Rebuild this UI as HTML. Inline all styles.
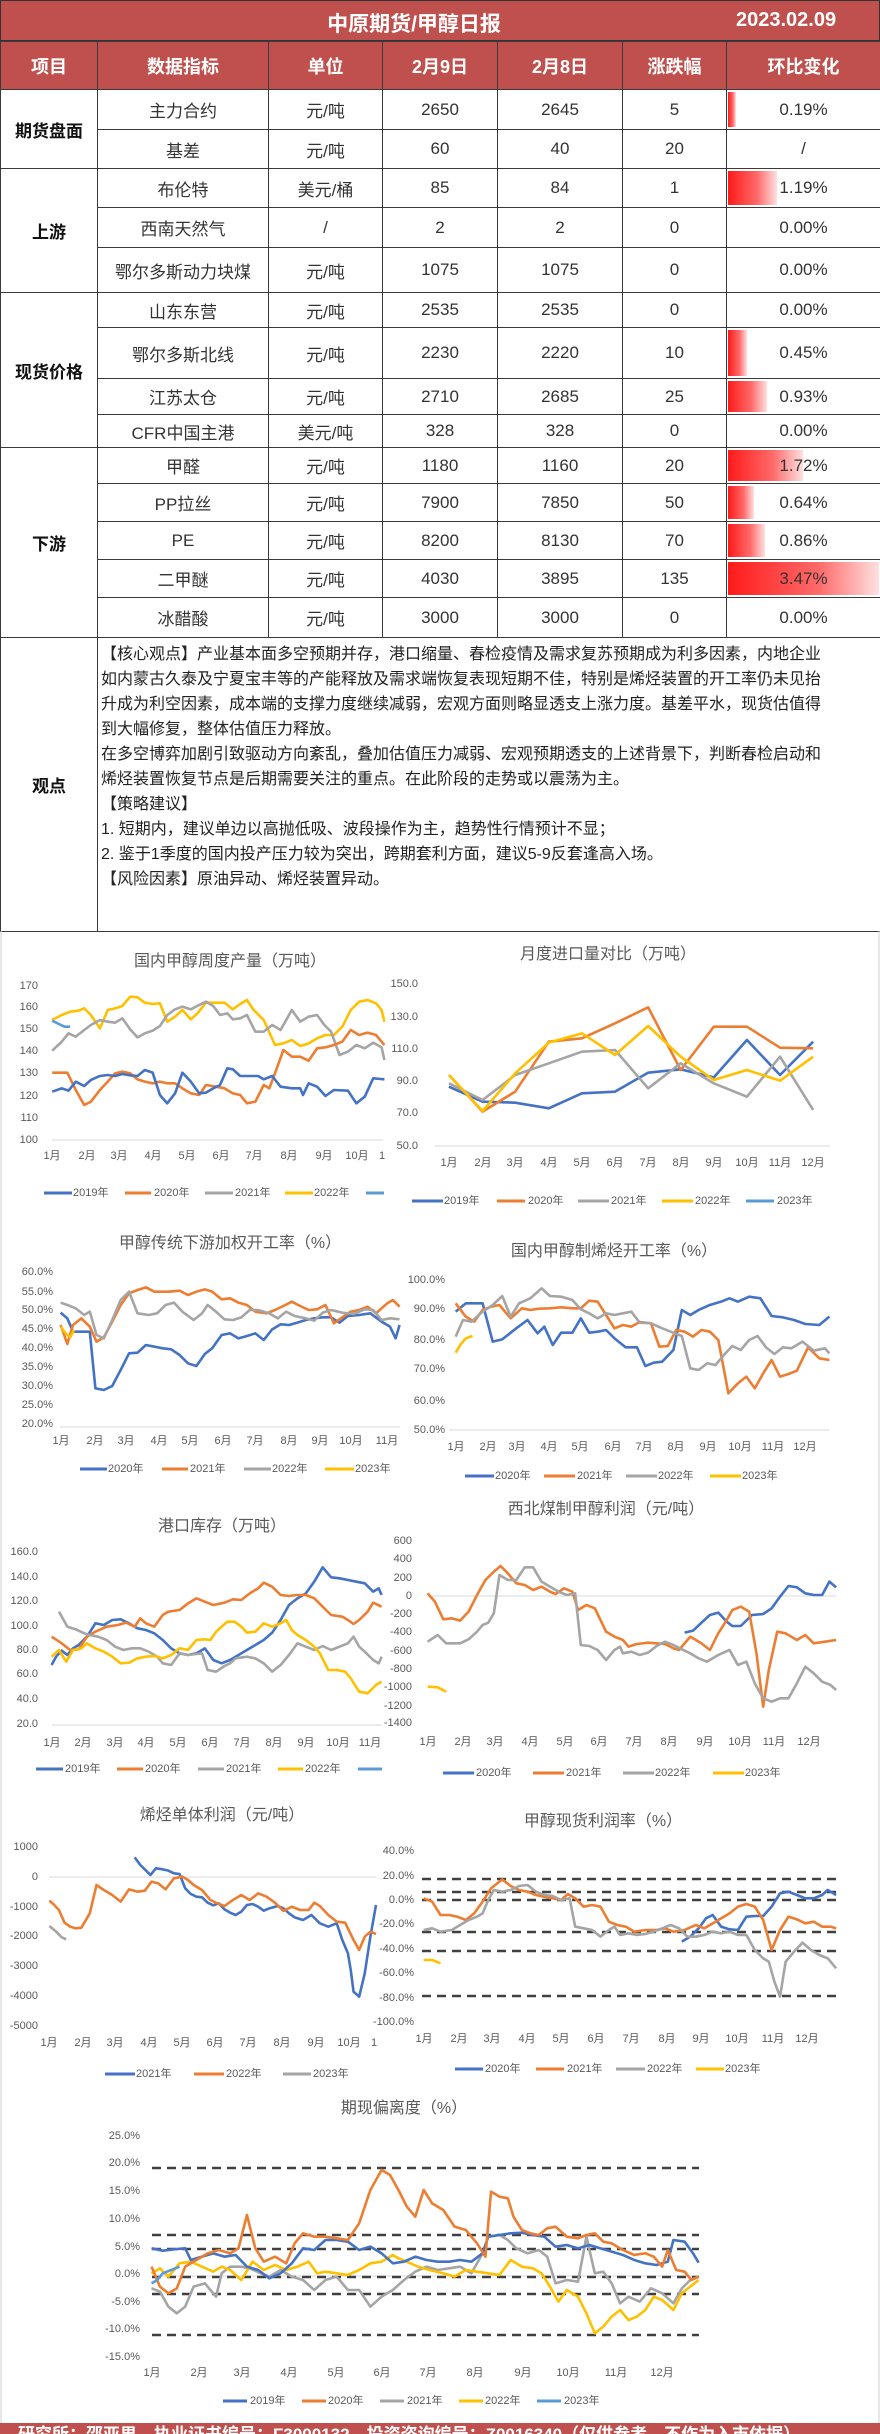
<!DOCTYPE html>
<html><head><meta charset="utf-8">
<style>
*{margin:0;padding:0;box-sizing:border-box}
body{width:880px;height:2434px;background:#fff;position:relative;overflow:hidden;font-family:"Liberation Sans","Noto Sans CJK SC",sans-serif;color:#333}
.title{position:absolute;left:0;top:0;width:880px;height:41px;background:#c0504d;color:#fff;font-weight:bold;border:1px solid #333}
.title .t{position:absolute;left:0;width:826px;text-align:center;top:7px;font-size:21px}
.title .d{position:absolute;left:735px;top:8px;font-size:20px}
table{position:absolute;left:0;top:41px;border-collapse:collapse;table-layout:fixed;width:880px}
td{border:1px solid #3a3a3a;text-align:center;vertical-align:middle;font-size:17px;color:#333;position:relative;padding:0}
tr.h td{background:#c0504d;color:#fff;font-weight:bold;font-size:18px}
td.cat{font-weight:bold;color:#111;font-size:17px}
.bar{position:absolute;left:1px;top:2px;bottom:2px;background:linear-gradient(to right,#ff1a1a,#ff6a6a 60%,#ffe0e0)}
.pc{position:relative}
.view{text-align:left;vertical-align:top;padding:4px 0 0 3px;font-size:16px;line-height:25px;white-space:nowrap;color:#222}
svg{position:absolute;left:0;top:0}
polyline{vector-effect:non-scaling-stroke;fill:none;stroke-width:2.6;stroke-linejoin:round}
.b{stroke:#4472c4}.o{stroke:#ed7d31}.g{stroke:#a5a5a5}.y{stroke:#ffc000}.l{stroke:#5b9bd5}
text{font-family:"Liberation Sans","Noto Sans CJK SC",sans-serif}
.tt{font-size:16px;fill:#595959;text-anchor:middle}
.yl{font-size:11px;fill:#595959;text-anchor:end;dominant-baseline:middle}
.xl{font-size:11px;fill:#595959;text-anchor:middle;dominant-baseline:middle}
.lg{font-size:11px;fill:#595959;dominant-baseline:middle}
.footer{position:absolute;left:0;top:2423px;width:880px;height:11px;background:#c0504d;overflow:hidden;color:#fff;font-weight:bold;font-size:17px;white-space:nowrap;padding-left:18px;line-height:24px}
</style></head><body>
<div class="title"><div class="t">中原期货/甲醇日报</div><div class="d">2023.02.09</div></div>
<table>
<colgroup><col style="width:97px"><col style="width:171px"><col style="width:114px"><col style="width:115px"><col style="width:125px"><col style="width:104px"><col style="width:154px"></colgroup>
<tr class="h" style="height:48px"><td>项目</td><td>数据指标</td><td>单位</td><td>2月9日</td><td>2月8日</td><td>涨跌幅</td><td>环比变化</td></tr>
<tr style="height:40px"><td class="cat" rowspan="2">期货盘面</td><td>主力合约</td><td>元/吨</td><td>2650</td><td>2645</td><td>5</td><td><div class="bar" style="width:8px"></div><span class="pc">0.19%</span></td></tr>
<tr style="height:39px"><td>基差</td><td>元/吨</td><td>60</td><td>40</td><td>20</td><td>/</td></tr>
<tr style="height:39px"><td class="cat" rowspan="3">上游</td><td>布伦特</td><td>美元/桶</td><td>85</td><td>84</td><td>1</td><td><div class="bar" style="width:49px"></div><span class="pc">1.19%</span></td></tr>
<tr style="height:40px"><td>西南天然气</td><td>/</td><td>2</td><td>2</td><td>0</td><td>0.00%</td></tr>
<tr style="height:45px"><td>鄂尔多斯动力块煤</td><td>元/吨</td><td>1075</td><td>1075</td><td>0</td><td>0.00%</td></tr>
<tr style="height:35px"><td class="cat" rowspan="4">现货价格</td><td>山东东营</td><td>元/吨</td><td>2535</td><td>2535</td><td>0</td><td>0.00%</td></tr>
<tr style="height:51px"><td>鄂尔多斯北线</td><td>元/吨</td><td>2230</td><td>2220</td><td>10</td><td><div class="bar" style="width:19px"></div><span class="pc">0.45%</span></td></tr>
<tr style="height:36px"><td>江苏太仓</td><td>元/吨</td><td>2710</td><td>2685</td><td>25</td><td><div class="bar" style="width:39px"></div><span class="pc">0.93%</span></td></tr>
<tr style="height:33px"><td>CFR中国主港</td><td>美元/吨</td><td>328</td><td>328</td><td>0</td><td>0.00%</td></tr>
<tr style="height:36px"><td class="cat" rowspan="5">下游</td><td>甲醛</td><td>元/吨</td><td>1180</td><td>1160</td><td>20</td><td><div class="bar" style="width:75px"></div><span class="pc">1.72%</span></td></tr>
<tr style="height:38px"><td>PP拉丝</td><td>元/吨</td><td>7900</td><td>7850</td><td>50</td><td><div class="bar" style="width:26px"></div><span class="pc">0.64%</span></td></tr>
<tr style="height:38px"><td>PE</td><td>元/吨</td><td>8200</td><td>8130</td><td>70</td><td><div class="bar" style="width:37px"></div><span class="pc">0.86%</span></td></tr>
<tr style="height:38px"><td>二甲醚</td><td>元/吨</td><td>4030</td><td>3895</td><td>135</td><td><div class="bar" style="width:151px"></div><span class="pc">3.47%</span></td></tr>
<tr style="height:40px"><td>冰醋酸</td><td>元/吨</td><td>3000</td><td>3000</td><td>0</td><td>0.00%</td></tr>
<tr style="height:294px"><td class="cat">观点</td><td colspan="6" class="view">【核心观点】产业基本面多空预期并存，港口缩量、春检疫情及需求复苏预期成为利多因素，内地企业<br>如内蒙古久泰及宁夏宝丰等的产能释放及需求端恢复表现短期不佳，特别是烯烃装置的开工率仍未见抬<br>升成为利空因素，成本端的支撑力度继续减弱，宏观方面则略显透支上涨力度。基差平水，现货估值得<br>到大幅修复，整体估值压力释放。<br>在多空博弈加剧引致驱动方向紊乱，叠加估值压力减弱、宏观预期透支的上述背景下，判断春检启动和<br>烯烃装置恢复节点是后期需要关注的重点。在此阶段的走势或以震荡为主。<br>【策略建议】<br>1. 短期内，建议单边以高抛低吸、波段操作为主，趋势性行情预计不显；<br>2. 鉴于1季度的国内投产压力较为突出，跨期套利方面，建议5-9反套逢高入场。<br>【风险因素】原油异动、烯烃装置异动。</td></tr>
</table>

<svg width="880" height="2434" viewBox="0 0 880 2434">
<line x1="1" y1="931" x2="1" y2="2423" stroke="#d0d0d0"/>
<line x1="879" y1="931" x2="879" y2="2423" stroke="#d0d0d0"/>

<!-- Chart 1 & 2 -->
<text class="tt" x="230" y="966">国内甲醇周度产量（万吨）</text>
<text class="tt" x="608" y="959">月度进口量对比（万吨）</text>
<g>
<text class="yl" x="38" y="986">170</text><text class="yl" x="38" y="1007">160</text><text class="yl" x="38" y="1029">150</text><text class="yl" x="38" y="1051">140</text><text class="yl" x="38" y="1073">130</text><text class="yl" x="38" y="1096">120</text><text class="yl" x="38" y="1118">110</text><text class="yl" x="38" y="1140">100</text>
<text class="yl" x="418" y="984">150.0</text><text class="yl" x="418" y="1017">130.0</text><text class="yl" x="418" y="1049">110.0</text><text class="yl" x="418" y="1081">90.0</text><text class="yl" x="418" y="1113">70.0</text><text class="yl" x="418" y="1146">50.0</text>
<line x1="52" y1="1140" x2="383" y2="1140" stroke="#d9d9d9"/>
<line x1="435" y1="1146" x2="830" y2="1146" stroke="#d9d9d9"/>
<text class="xl" x="52" y="1156">1月</text><text class="xl" x="87" y="1156">2月</text><text class="xl" x="119" y="1156">3月</text><text class="xl" x="153" y="1156">4月</text><text class="xl" x="187" y="1156">5月</text><text class="xl" x="221" y="1156">6月</text><text class="xl" x="254" y="1156">7月</text><text class="xl" x="289" y="1156">8月</text><text class="xl" x="324" y="1156">9月</text><text class="xl" x="357" y="1156">10月</text><text class="xl" x="382" y="1156">1</text>
<text class="xl" x="449" y="1163">1月</text><text class="xl" x="483" y="1163">2月</text><text class="xl" x="515" y="1163">3月</text><text class="xl" x="549" y="1163">4月</text><text class="xl" x="582" y="1163">5月</text><text class="xl" x="615" y="1163">6月</text><text class="xl" x="648" y="1163">7月</text><text class="xl" x="681" y="1163">8月</text><text class="xl" x="714" y="1163">9月</text><text class="xl" x="747" y="1163">10月</text><text class="xl" x="780" y="1163">11月</text><text class="xl" x="813" y="1163">12月</text>
<line x1="44" y1="1193" x2="72" y2="1193" stroke="#4472c4" stroke-width="3"/><text class="lg" x="73" y="1193">2019年</text>
<line x1="125" y1="1193" x2="151" y2="1193" stroke="#ed7d31" stroke-width="3"/><text class="lg" x="154" y="1193">2020年</text>
<line x1="205" y1="1193" x2="233" y2="1193" stroke="#a5a5a5" stroke-width="3"/><text class="lg" x="235" y="1193">2021年</text>
<line x1="285" y1="1193" x2="313" y2="1193" stroke="#ffc000" stroke-width="3"/><text class="lg" x="314" y="1193">2022年</text>
<line x1="366" y1="1193" x2="384" y2="1193" stroke="#5b9bd5" stroke-width="3"/>
<line x1="412" y1="1201" x2="443" y2="1201" stroke="#4472c4" stroke-width="3"/><text class="lg" x="444" y="1201">2019年</text>
<line x1="497" y1="1201" x2="525" y2="1201" stroke="#ed7d31" stroke-width="3"/><text class="lg" x="528" y="1201">2020年</text>
<line x1="578" y1="1201" x2="609" y2="1201" stroke="#a5a5a5" stroke-width="3"/><text class="lg" x="611" y="1201">2021年</text>
<line x1="662" y1="1201" x2="693" y2="1201" stroke="#ffc000" stroke-width="3"/><text class="lg" x="695" y="1201">2022年</text>
<line x1="746" y1="1201" x2="774" y2="1201" stroke="#5b9bd5" stroke-width="3"/><text class="lg" x="777" y="1201">2023年</text>
</g>
<g transform="translate(0,920) scale(0.56117,0.33333)">
<polyline class="y" points="93,300 110,285 125,275 140,272 150,265 162,285 178,325 192,270 205,265 218,258 232,230 245,232 258,248 272,252 285,250 298,305 312,290 325,270 340,298 352,280 367,248 385,248 400,248 415,268 428,252 440,240 452,270 470,300 490,375 505,370 520,360 535,378 550,370 565,355 580,345 595,345 610,320 625,270 640,245 655,240 670,250 680,270 685,305"/>
<polyline class="g" points="93,392 110,365 122,340 135,350 150,330 162,315 178,300 192,305 205,308 218,295 232,328 245,352 258,340 272,332 285,318 298,285 312,268 325,260 340,268 355,255 367,245 380,258 392,285 405,280 415,298 428,295 440,285 455,335 470,335 485,315 500,330 520,270 535,305 550,290 565,285 578,315 590,335 605,405 620,395 635,375 650,385 665,368 680,382 685,420"/>
<polyline class="o" points="93,458 120,458 135,510 150,555 162,545 178,510 192,485 205,460 218,455 232,460 245,478 258,485 272,490 285,485 298,490 312,490 325,505 340,520 355,525 367,495 385,500 400,505 415,520 428,525 440,550 455,545 470,495 480,505 490,460 505,390 520,410 535,410 550,422 565,385 580,382 595,375 610,365 625,330 640,345 655,338 670,345 685,375"/>
<polyline class="b" points="93,515 110,505 122,512 135,485 150,498 162,480 178,468 192,465 205,468 218,462 232,466 245,468 258,450 272,458 285,525 298,550 312,520 325,458 340,485 355,520 367,518 380,505 392,495 405,445 415,448 428,468 445,468 460,468 470,478 485,468 500,500 520,505 535,505 540,525 550,490 565,500 580,528 595,510 620,512 635,550 650,530 665,475 685,478"/>
<polyline class="l" points="93,302 105,312 115,320 125,320"/>
<polyline class="b" points="800,500 860,545 918,548 978,565 1037,520 1096,515 1155,458 1213,448 1272,472 1331,360 1390,465 1449,365"/>
<polyline class="o" points="800,465 860,575 918,515 978,365 1037,355 1096,310 1155,262 1213,450 1272,320 1331,320 1390,383 1449,385"/>
<polyline class="g" points="800,490 860,540 918,465 978,430 1037,395 1096,390 1155,505 1213,430 1272,490 1331,530 1390,410 1449,570"/>
<polyline class="y" points="800,465 860,573 918,460 978,368 1037,340 1096,405 1155,318 1213,410 1272,480 1331,450 1390,482 1449,410"/>
</g>

<!-- Chart 3 & 4 -->
<text class="tt" x="230" y="1248">甲醇传统下游加权开工率（%）</text>
<text class="tt" x="614" y="1256">国内甲醇制烯烃开工率（%）</text>
<text class="yl" x="53" y="1272">60.0%</text><text class="yl" x="53" y="1292">55.0%</text><text class="yl" x="53" y="1310">50.0%</text><text class="yl" x="53" y="1329">45.0%</text><text class="yl" x="53" y="1348">40.0%</text><text class="yl" x="53" y="1367">35.0%</text><text class="yl" x="53" y="1386">30.0%</text><text class="yl" x="53" y="1405">25.0%</text><text class="yl" x="53" y="1424">20.0%</text>
<line x1="60" y1="1427" x2="400" y2="1427" stroke="#d9d9d9"/>
<text class="xl" x="61" y="1441">1月</text><text class="xl" x="95" y="1441">2月</text><text class="xl" x="126" y="1441">3月</text><text class="xl" x="159" y="1441">4月</text><text class="xl" x="190" y="1441">5月</text><text class="xl" x="223" y="1441">6月</text><text class="xl" x="255" y="1441">7月</text><text class="xl" x="289" y="1441">8月</text><text class="xl" x="320" y="1441">9月</text><text class="xl" x="351" y="1441">10月</text><text class="xl" x="387" y="1441">11月</text>
<text class="yl" x="445" y="1280">100.0%</text><text class="yl" x="445" y="1309">90.0%</text><text class="yl" x="445" y="1340">80.0%</text><text class="yl" x="445" y="1369">70.0%</text><text class="yl" x="445" y="1401">60.0%</text><text class="yl" x="445" y="1430">50.0%</text>
<line x1="449" y1="1430" x2="829" y2="1430" stroke="#d9d9d9"/>
<text class="xl" x="456" y="1447">1月</text><text class="xl" x="488" y="1447">2月</text><text class="xl" x="517" y="1447">3月</text><text class="xl" x="549" y="1447">4月</text><text class="xl" x="580" y="1447">5月</text><text class="xl" x="613" y="1447">6月</text><text class="xl" x="644" y="1447">7月</text><text class="xl" x="676" y="1447">8月</text><text class="xl" x="708" y="1447">9月</text><text class="xl" x="740" y="1447">10月</text><text class="xl" x="773" y="1447">11月</text><text class="xl" x="805" y="1447">12月</text>
<line x1="80" y1="1469" x2="107" y2="1469" stroke="#4472c4" stroke-width="3"/><text class="lg" x="108" y="1469">2020年</text>
<line x1="162" y1="1469" x2="188" y2="1469" stroke="#ed7d31" stroke-width="3"/><text class="lg" x="190" y="1469">2021年</text>
<line x1="244" y1="1469" x2="271" y2="1469" stroke="#a5a5a5" stroke-width="3"/><text class="lg" x="272" y="1469">2022年</text>
<line x1="325" y1="1469" x2="354" y2="1469" stroke="#ffc000" stroke-width="3"/><text class="lg" x="355" y="1469">2023年</text>
<line x1="465" y1="1476" x2="494" y2="1476" stroke="#4472c4" stroke-width="3"/><text class="lg" x="495" y="1476">2020年</text>
<line x1="544" y1="1476" x2="575" y2="1476" stroke="#ed7d31" stroke-width="3"/><text class="lg" x="577" y="1476">2021年</text>
<line x1="626" y1="1476" x2="657" y2="1476" stroke="#a5a5a5" stroke-width="3"/><text class="lg" x="658" y="1476">2022年</text>
<line x1="710" y1="1476" x2="741" y2="1476" stroke="#ffc000" stroke-width="3"/><text class="lg" x="742" y="1476">2023年</text>
<g transform="translate(0,1230) scale(0.56117,0.33333)">
<polyline class="b" points="108,248 120,265 130,305 160,305 170,475 185,480 200,468 215,420 230,370 245,368 260,345 290,355 305,358 320,375 335,400 350,408 365,372 378,355 395,315 410,310 425,325 440,318 455,310 470,330 485,298 500,283 515,285 530,278 545,270 560,265 575,262 590,262 605,278 620,258 640,255 660,250 680,275 695,290 705,325 712,285"/>
<polyline class="o" points="108,285 120,342 130,285 145,265 160,290 172,335 185,322 200,275 215,225 230,190 245,180 260,172 275,185 300,185 320,182 335,195 350,185 365,178 378,185 395,208 410,205 425,218 440,225 455,245 475,250 490,240 505,228 520,215 535,228 550,240 565,238 580,225 595,280 610,262 625,245 640,240 655,230 670,250 690,220 700,210 712,230"/>
<polyline class="g" points="108,218 120,225 135,235 150,255 160,245 172,315 185,325 200,270 215,210 230,185 245,250 265,255 280,250 295,225 310,218 325,245 345,270 360,250 370,225 385,245 400,268 415,270 430,262 445,240 460,240 480,250 495,265 510,245 525,258 545,265 560,272 575,248 590,240 610,248 630,252 650,238 665,240 680,270 695,265 712,268"/>
<polyline class="y" points="108,290 118,312 125,322 132,300"/>
<polyline class="b" points="812,245 830,220 860,220 878,335 895,328 920,295 940,270 958,310 970,290 985,345 1000,308 1020,308 1035,265 1050,308 1065,305 1080,300 1095,325 1115,352 1135,352 1150,408 1165,398 1180,395 1200,360 1215,240 1230,255 1245,240 1265,225 1285,215 1300,205 1315,215 1335,200 1355,205 1375,258 1395,262 1415,270 1435,282 1460,285 1478,260"/>
<polyline class="o" points="812,220 830,260 845,275 860,240 875,230 890,225 910,265 930,235 945,240 960,236 980,235 1000,232 1020,235 1035,235 1050,212 1065,215 1080,255 1095,295 1110,285 1125,290 1140,276 1160,280 1175,350 1190,348 1205,300 1220,305 1235,320 1250,300 1265,305 1280,330 1298,490 1315,460 1330,440 1345,475 1360,430 1375,390 1390,440 1405,432 1420,422 1440,352 1460,385 1478,390"/>
<polyline class="g" points="812,320 825,270 840,275 860,245 878,225 895,198 910,260 925,220 945,205 965,175 980,198 1000,200 1020,210 1035,238 1050,250 1065,265 1080,250 1095,255 1110,250 1125,245 1140,278 1160,280 1180,295 1200,308 1215,318 1230,415 1245,420 1260,400 1275,405 1290,375 1305,348 1320,360 1335,330 1350,318 1365,352 1380,372 1395,352 1410,355 1430,335 1450,362 1470,355 1478,370"/>
<polyline class="y" points="812,368 820,345 830,325 842,318"/>
</g>

<!-- Chart 5 & 6 -->
<text class="tt" x="222" y="1531">港口库存（万吨）</text>
<text class="tt" x="606" y="1514">西北煤制甲醇利润（元/吨）</text>
<text class="yl" x="38" y="1552">160.0</text><text class="yl" x="38" y="1577">140.0</text><text class="yl" x="38" y="1601">120.0</text><text class="yl" x="38" y="1626">100.0</text><text class="yl" x="38" y="1650">80.0</text><text class="yl" x="38" y="1674">60.0</text><text class="yl" x="38" y="1699">40.0</text><text class="yl" x="38" y="1724">20.0</text>
<line x1="52" y1="1725" x2="382" y2="1725" stroke="#d9d9d9"/>
<text class="xl" x="52" y="1743">1月</text><text class="xl" x="83" y="1743">2月</text><text class="xl" x="115" y="1743">3月</text><text class="xl" x="146" y="1743">4月</text><text class="xl" x="178" y="1743">5月</text><text class="xl" x="210" y="1743">6月</text><text class="xl" x="242" y="1743">7月</text><text class="xl" x="274" y="1743">8月</text><text class="xl" x="306" y="1743">9月</text><text class="xl" x="338" y="1743">10月</text><text class="xl" x="370" y="1743">11月</text>
<text class="yl" x="412" y="1541">600</text><text class="yl" x="412" y="1559">400</text><text class="yl" x="412" y="1578">200</text><text class="yl" x="412" y="1596">0</text><text class="yl" x="412" y="1614">-200</text><text class="yl" x="412" y="1632">-400</text><text class="yl" x="412" y="1651">-600</text><text class="yl" x="412" y="1669">-800</text><text class="yl" x="412" y="1687">-1000</text><text class="yl" x="412" y="1706">-1200</text><text class="yl" x="412" y="1723">-1400</text>
<line x1="432" y1="1596" x2="836" y2="1596" stroke="#d9d9d9"/>
<text class="xl" x="428" y="1742">1月</text><text class="xl" x="463" y="1742">2月</text><text class="xl" x="495" y="1742">3月</text><text class="xl" x="530" y="1742">4月</text><text class="xl" x="565" y="1742">5月</text><text class="xl" x="599" y="1742">6月</text><text class="xl" x="634" y="1742">7月</text><text class="xl" x="669" y="1742">8月</text><text class="xl" x="705" y="1742">9月</text><text class="xl" x="740" y="1742">10月</text><text class="xl" x="774" y="1742">11月</text><text class="xl" x="809" y="1742">12月</text>
<line x1="36" y1="1769" x2="63" y2="1769" stroke="#4472c4" stroke-width="3"/><text class="lg" x="65" y="1769">2019年</text>
<line x1="117" y1="1769" x2="143" y2="1769" stroke="#ed7d31" stroke-width="3"/><text class="lg" x="145" y="1769">2020年</text>
<line x1="198" y1="1769" x2="224" y2="1769" stroke="#a5a5a5" stroke-width="3"/><text class="lg" x="226" y="1769">2021年</text>
<line x1="278" y1="1769" x2="303" y2="1769" stroke="#ffc000" stroke-width="3"/><text class="lg" x="305" y="1769">2022年</text>
<line x1="358" y1="1769" x2="382" y2="1769" stroke="#5b9bd5" stroke-width="3"/>
<line x1="443" y1="1773" x2="474" y2="1773" stroke="#4472c4" stroke-width="3"/><text class="lg" x="476" y="1773">2020年</text>
<line x1="533" y1="1773" x2="564" y2="1773" stroke="#ed7d31" stroke-width="3"/><text class="lg" x="566" y="1773">2021年</text>
<line x1="623" y1="1773" x2="654" y2="1773" stroke="#a5a5a5" stroke-width="3"/><text class="lg" x="655" y="1773">2022年</text>
<line x1="713" y1="1773" x2="744" y2="1773" stroke="#ffc000" stroke-width="3"/><text class="lg" x="745" y="1773">2023年</text>
<g transform="translate(0,1480) scale(0.56117,0.33333)">
<polyline class="b" points="92,555 100,530 110,512 120,525 130,505 140,495 155,470 170,430 185,435 200,420 215,418 230,430 245,445 260,450 275,460 290,480 305,505 320,520 335,525 350,520 365,505 380,540 395,550 410,540 425,525 440,510 455,495 470,480 485,458 500,420 515,375 530,355 545,340 560,305 575,262 590,292 605,295 620,300 635,305 650,310 665,335 675,325 680,345"/>
<polyline class="o" points="92,470 110,490 125,510 140,508 155,470 170,455 190,440 210,435 225,428 240,440 250,415 260,430 275,440 290,405 300,395 320,390 335,370 350,355 365,365 380,375 400,368 415,358 430,360 445,340 460,325 470,308 485,320 500,345 515,348 530,345 545,345 560,355 575,380 590,405 610,410 620,420 630,432 640,420 655,395 665,368 680,380"/>
<polyline class="g" points="105,395 120,440 135,448 150,460 160,465 175,470 190,480 205,500 220,510 235,505 250,505 265,515 280,530 290,550 305,555 320,520 335,525 350,522 360,520 370,570 385,575 400,558 410,550 420,535 440,530 455,535 470,550 485,575 500,555 515,525 530,490 545,500 560,510 575,498 590,510 605,500 620,490 630,470 640,500 650,515 665,540 675,550 680,530"/>
<polyline class="y" points="92,530 105,510 118,545 130,510 145,505 155,490 170,505 185,515 200,530 215,550 230,548 245,535 260,530 275,528 290,535 305,525 320,505 335,510 350,480 365,478 375,480 385,455 395,440 405,425 418,425 430,440 440,458 455,455 470,430 485,440 500,430 510,420 520,450 530,465 545,480 560,500 570,520 585,570 600,570 615,575 625,595 640,635 655,640 670,615 680,605"/>
<polyline class="b" points="1220,458 1235,452 1250,428 1265,405 1280,398 1295,425 1305,438 1320,438 1340,405 1360,402 1375,385 1390,350 1405,318 1420,322 1435,340 1450,345 1465,345 1478,305 1490,322"/>
<polyline class="o" points="762,340 775,365 790,418 805,415 820,422 835,395 850,345 865,300 880,275 892,258 905,280 920,310 935,315 950,330 965,320 980,335 990,342 1005,325 1020,335 1030,390 1045,375 1060,385 1070,420 1080,455 1095,470 1110,480 1120,500 1135,492 1155,488 1170,490 1185,492 1200,505 1210,510 1230,470 1250,490 1265,510 1280,460 1295,420 1305,390 1320,380 1335,395 1348,520 1360,680 1370,570 1385,455 1400,460 1420,480 1435,465 1450,490 1470,485 1490,480"/>
<polyline class="g" points="762,485 780,465 795,490 820,490 835,478 850,455 860,435 870,428 880,400 890,285 905,300 920,300 935,262 950,262 965,305 980,320 995,335 1010,345 1025,340 1035,495 1050,498 1065,510 1080,540 1095,510 1105,500 1110,520 1125,515 1140,525 1155,518 1170,498 1185,485 1200,495 1215,508 1230,520 1245,535 1260,545 1280,525 1300,510 1315,555 1330,545 1345,610 1360,655 1375,665 1390,655 1405,655 1420,610 1435,560 1450,580 1465,605 1480,615 1490,630"/>
<polyline class="y" points="762,620 780,622 795,635"/>
</g>

<!-- Chart 7 & 8 -->
<text class="tt" x="222" y="1820">烯烃单体利润（元/吨）</text>
<text class="tt" x="603" y="1826">甲醇现货利润率（%）</text>
<text class="yl" x="38" y="1847">1000</text><text class="yl" x="38" y="1877">0</text><text class="yl" x="38" y="1907">-1000</text><text class="yl" x="38" y="1936">-2000</text><text class="yl" x="38" y="1966">-3000</text><text class="yl" x="38" y="1996">-4000</text><text class="yl" x="38" y="2026">-5000</text>
<line x1="49" y1="1877" x2="376" y2="1877" stroke="#d9d9d9"/>
<text class="xl" x="49" y="2043">1月</text><text class="xl" x="83" y="2043">2月</text><text class="xl" x="115" y="2043">3月</text><text class="xl" x="149" y="2043">4月</text><text class="xl" x="182" y="2043">5月</text><text class="xl" x="215" y="2043">6月</text><text class="xl" x="248" y="2043">7月</text><text class="xl" x="282" y="2043">8月</text><text class="xl" x="316" y="2043">9月</text><text class="xl" x="349" y="2043">10月</text><text class="xl" x="374" y="2043">1</text>
<text class="yl" x="414" y="1851">40.0%</text><text class="yl" x="414" y="1876">20.0%</text><text class="yl" x="414" y="1900">0.0%</text><text class="yl" x="414" y="1924">-20.0%</text><text class="yl" x="414" y="1949">-40.0%</text><text class="yl" x="414" y="1973">-60.0%</text><text class="yl" x="414" y="1998">-80.0%</text><text class="yl" x="414" y="2022">-100.0%</text>
<g stroke="#404040" stroke-width="2.5" stroke-dasharray="9,6">
<line x1="422" y1="1879" x2="836" y2="1879"/><line x1="422" y1="1892" x2="836" y2="1892"/><line x1="422" y1="1900" x2="836" y2="1900"/><line x1="422" y1="1932" x2="836" y2="1932"/><line x1="422" y1="1951" x2="836" y2="1951"/><line x1="422" y1="1996" x2="836" y2="1996"/>
</g>
<text class="xl" x="424" y="2039">1月</text><text class="xl" x="459" y="2039">2月</text><text class="xl" x="492" y="2039">3月</text><text class="xl" x="527" y="2039">4月</text><text class="xl" x="561" y="2039">5月</text><text class="xl" x="596" y="2039">6月</text><text class="xl" x="631" y="2039">7月</text><text class="xl" x="667" y="2039">8月</text><text class="xl" x="701" y="2039">9月</text><text class="xl" x="737" y="2039">10月</text><text class="xl" x="773" y="2039">11月</text><text class="xl" x="807" y="2039">12月</text>
<line x1="105" y1="2074" x2="135" y2="2074" stroke="#4472c4" stroke-width="3"/><text class="lg" x="136" y="2074">2021年</text>
<line x1="194" y1="2074" x2="224" y2="2074" stroke="#ed7d31" stroke-width="3"/><text class="lg" x="226" y="2074">2022年</text>
<line x1="283" y1="2074" x2="311" y2="2074" stroke="#a5a5a5" stroke-width="3"/><text class="lg" x="313" y="2074">2023年</text>
<line x1="455" y1="2069" x2="483" y2="2069" stroke="#4472c4" stroke-width="3"/><text class="lg" x="485" y="2069">2020年</text>
<line x1="536" y1="2069" x2="564" y2="2069" stroke="#ed7d31" stroke-width="3"/><text class="lg" x="567" y="2069">2021年</text>
<line x1="616" y1="2069" x2="645" y2="2069" stroke="#a5a5a5" stroke-width="3"/><text class="lg" x="647" y="2069">2022年</text>
<line x1="696" y1="2069" x2="724" y2="2069" stroke="#ffc000" stroke-width="3"/><text class="lg" x="725" y="2069">2023年</text>
<g transform="translate(0,1780) scale(0.56117,0.33333)">
<polyline class="b" points="240,232 250,255 258,268 268,285 278,265 290,268 300,272 310,280 320,282 330,325 340,342 350,350 360,352 370,368 380,376 390,370 400,388 410,398 420,405 430,395 440,375 450,372 460,380 470,392 480,385 495,378 505,385 515,400 525,412 540,420 555,405 570,430 585,440 600,430 610,480 620,520 625,570 630,635 640,650 650,580 660,470 670,375"/>
<polyline class="o" points="88,362 95,372 105,390 115,428 125,440 135,445 145,443 160,400 172,315 185,330 200,345 215,365 230,328 245,335 258,332 270,305 282,310 295,328 310,295 325,290 335,300 345,315 360,330 375,360 390,372 400,378 415,360 430,345 445,360 460,340 475,350 490,368 505,393 520,380 535,390 550,390 560,368 570,378 585,405 600,425 615,428 630,480 640,510 650,470 660,455 670,462"/>
<polyline class="g" points="88,438 100,455 110,472 118,478"/>
<polyline class="b" points="1215,485 1230,470 1245,445 1258,415 1270,405 1285,440 1300,448 1315,450 1330,410 1345,408 1360,408 1375,380 1390,340 1405,335 1420,345 1435,355 1450,355 1465,345 1475,330 1490,345"/>
<polyline class="o" points="755,355 770,365 785,405 800,405 815,410 830,420 845,400 860,365 875,325 895,298 910,318 925,330 940,335 955,345 970,350 985,355 1000,360 1012,342 1025,355 1040,380 1055,375 1070,380 1085,425 1100,435 1115,440 1130,455 1150,450 1170,450 1185,445 1200,455 1220,450 1240,435 1255,445 1270,430 1285,415 1300,400 1315,380 1330,372 1345,380 1360,420 1375,510 1390,450 1405,410 1420,418 1435,430 1450,425 1465,440 1480,440 1490,445"/>
<polyline class="g" points="755,450 770,445 785,455 805,450 820,435 835,420 850,410 860,400 870,360 880,330 895,335 910,330 925,318 940,315 955,335 970,345 985,348 1000,360 1015,355 1025,440 1040,445 1055,450 1070,470 1085,450 1095,440 1105,465 1120,460 1135,465 1150,462 1165,455 1180,445 1195,435 1210,445 1225,470 1240,470 1255,465 1270,455 1285,460 1300,455 1315,465 1330,465 1345,510 1360,535 1370,545 1380,605 1390,650 1400,545 1415,515 1430,488 1445,510 1460,525 1475,535 1490,565"/>
<polyline class="y" points="755,540 770,540 785,550"/>
</g>

<!-- Chart 9 -->
<text class="tt" x="404" y="2113">期现偏离度（%）</text>
<text class="yl" x="140" y="2136">25.0%</text><text class="yl" x="140" y="2163">20.0%</text><text class="yl" x="140" y="2191">15.0%</text><text class="yl" x="140" y="2219">10.0%</text><text class="yl" x="140" y="2247">5.0%</text><text class="yl" x="140" y="2274">0.0%</text><text class="yl" x="140" y="2302">-5.0%</text><text class="yl" x="140" y="2329">-10.0%</text><text class="yl" x="140" y="2357">-15.0%</text>
<line x1="152" y1="2276" x2="699" y2="2276" stroke="#d9d9d9"/>
<g stroke="#404040" stroke-width="2.5" stroke-dasharray="9,6">
<line x1="152" y1="2168" x2="699" y2="2168"/><line x1="152" y1="2235" x2="699" y2="2235"/><line x1="152" y1="2249" x2="699" y2="2249"/><line x1="152" y1="2277" x2="699" y2="2277"/><line x1="152" y1="2294" x2="699" y2="2294"/><line x1="152" y1="2335" x2="699" y2="2335"/>
</g>
<text class="xl" x="152" y="2373">1月</text><text class="xl" x="199" y="2373">2月</text><text class="xl" x="242" y="2373">3月</text><text class="xl" x="289" y="2373">4月</text><text class="xl" x="336" y="2373">5月</text><text class="xl" x="382" y="2373">6月</text><text class="xl" x="428" y="2373">7月</text><text class="xl" x="475" y="2373">8月</text><text class="xl" x="523" y="2373">9月</text><text class="xl" x="568" y="2373">10月</text><text class="xl" x="616" y="2373">11月</text><text class="xl" x="662" y="2373">12月</text>
<line x1="223" y1="2401" x2="247" y2="2401" stroke="#4472c4" stroke-width="3"/><text class="lg" x="250" y="2401">2019年</text>
<line x1="302" y1="2401" x2="326" y2="2401" stroke="#ed7d31" stroke-width="3"/><text class="lg" x="328" y="2401">2020年</text>
<line x1="380" y1="2401" x2="404" y2="2401" stroke="#a5a5a5" stroke-width="3"/><text class="lg" x="407" y="2401">2021年</text>
<line x1="459" y1="2401" x2="483" y2="2401" stroke="#ffc000" stroke-width="3"/><text class="lg" x="485" y="2401">2022年</text>
<line x1="537" y1="2401" x2="561" y2="2401" stroke="#5b9bd5" stroke-width="3"/><text class="lg" x="564" y="2401">2023年</text>
<g transform="translate(0,2080) scale(0.56117,0.33333)">
<polyline class="g" points="270,625 285,635 300,680 315,700 330,680 345,620 365,610 385,650 395,580 410,560 430,560 445,565 465,580 480,590 500,570 520,590 540,600 560,630 580,600 600,590 620,630 640,630 660,680 680,650 700,630 720,600 740,575 760,560 780,570 800,565 820,560 840,580 860,520 870,470 890,465 905,480 920,505 940,520 960,510 975,530 990,610 1010,600 1030,605 1045,470 1060,580 1075,575 1090,610 1105,670 1120,650 1140,665 1160,625 1180,640 1200,670 1215,625 1230,600 1245,590"/>
<polyline class="y" points="270,580 285,565 300,590 320,550 340,545 360,560 380,575 395,560 410,570 430,600 450,545 470,570 490,555 510,570 530,560 550,545 565,580 580,575 600,580 620,585 640,570 660,550 680,545 700,525 710,535 725,545 745,560 765,570 790,580 810,590 830,570 850,575 870,580 890,585 910,540 930,560 950,565 965,580 980,620 995,665 1010,630 1030,650 1045,700 1060,760 1075,740 1090,710 1105,690 1120,720 1135,710 1150,690 1165,650 1180,660 1200,690 1215,640 1230,620 1245,600"/>
<polyline class="b" points="270,505 290,512 310,508 330,505 340,540 360,530 380,520 400,530 420,525 440,560 460,570 480,595 500,580 520,550 540,505 560,510 580,480 600,480 620,485 640,510 660,500 680,520 700,550 720,545 740,530 760,540 780,545 800,545 820,540 840,545 860,520 870,470 890,465 910,460 930,458 950,465 970,470 990,500 1010,495 1030,505 1050,495 1070,505 1090,515 1110,525 1130,540 1150,550 1170,555 1190,545 1200,480 1220,485 1235,520 1245,548"/>
<polyline class="o" points="270,560 285,620 300,640 315,625 330,560 350,540 370,520 390,510 410,520 425,505 440,405 455,505 470,545 490,530 510,550 525,490 540,460 560,470 580,470 600,475 620,480 640,430 660,330 680,270 695,285 710,330 725,380 740,410 755,330 770,370 790,390 810,440 830,450 850,490 865,530 875,335 890,350 905,355 915,410 930,450 945,460 960,465 975,445 990,440 1010,470 1030,475 1045,465 1060,460 1075,485 1090,490 1110,510 1130,525 1150,520 1165,530 1180,560 1190,510 1205,570 1220,575 1232,600 1245,590"/>
<polyline class="l" points="270,610 280,600 290,580 305,570 320,560"/>
</g>
</svg>
<div class="footer">研究所：邵亚男　执业证书编号：F3000132　投资咨询编号：Z0016340（仅供参考，不作为入市依据）</div>
</body></html>
